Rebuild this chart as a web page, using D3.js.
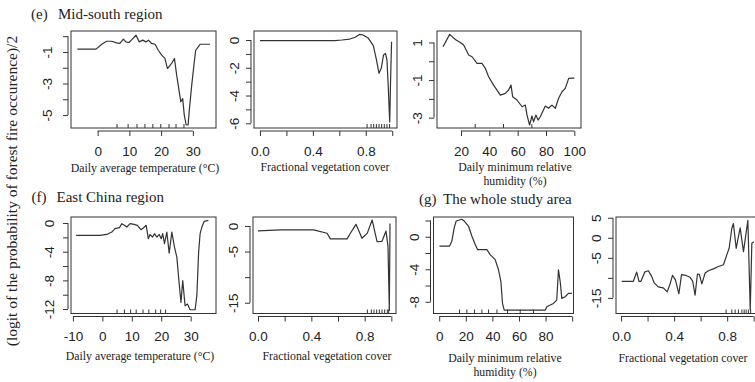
<!DOCTYPE html>
<html><head><meta charset="utf-8">
<script src="https://cdn.jsdelivr.net/npm/d3@7"></script>
<style>
html,body{margin:0;padding:0;background:#fff;overflow:hidden}
svg{display:block}
</style></head>
<body>
<svg id="chart" width="755" height="382"></svg>
<script>
// Partial-dependence curves (gbm), x values and fitted logit/2 values per panel

// (e) Mid-south region
const tempMidX = [-6.4, -0.5, 1.3, 2.8, 4.4, 6.0, 7.0, 8.1, 8.9, 9.9, 10.7, 12.1, 13.1, 14.2, 15.2, 16.0, 17.0, 18.1, 19.1, 20.2, 21.2, 22.0, 23.3, 24.2, 24.9, 25.4, 26.2, 26.8, 27.3, 27.9, 28.5, 28.9, 29.6, 30.4, 30.9, 31.7, 32.3, 35.4];
const tempMidY = [-0.82, -0.82, -0.51, -0.32, -0.32, -0.42, -0.46, -0.19, -0.36, -0.40, -0.23, 0.06, -0.36, -0.25, -0.36, -0.25, -0.46, -0.51, -0.89, -1.20, -1.41, -2.05, -1.73, -1.41, -2.47, -3.10, -4.16, -3.95, -5.00, -5.63, -5.63, -4.68, -3.20, -1.73, -0.89, -0.68, -0.51, -0.51];
const tempMidRug = [6.1, 9.6, 12.4, 14.9, 17.4, 19.9, 22.5, 24.7, 27.2];

const fvcMidX = [0, 0.566, 0.62, 0.679, 0.72, 0.755, 0.78, 0.82, 0.857, 0.88, 0.90, 0.917, 0.934, 0.949, 0.96, 0.97, 0.977, 0.981, 0.987, 0.995];
const fvcMidY = [-0.05, -0.05, 0.0, 0.07, 0.2, 0.41, 0.36, 0.12, -0.4, -1.4, -2.4, -2.04, -1.08, -0.96, -1.44, -3.36, -5.04, -5.9, -3.1, -0.12];
const fvcMidRug = [0.81, 0.84, 0.86, 0.88, 0.90, 0.92, 0.94, 0.96, 0.98];

const rhMidX = [7.3, 12.0, 16.0, 19.5, 21.9, 25.4, 27.8, 31.3, 34.8, 37.2, 39.5, 43.0, 47.8, 51.3, 53.6, 55.3, 56.5, 59.5, 63.1, 65.4, 66.6, 68.4, 70.1, 71.2, 72.9, 74.4, 76.0, 77.6, 79.5, 81.8, 84.2, 86.6, 88.9, 91.3, 93.6, 96.0, 98.0, 100.0];
const rhMidY = [0.77, 1.43, 1.16, 1.00, 0.86, 0.33, 0.24, -0.11, -0.11, -0.38, -0.82, -1.27, -1.80, -1.71, -1.53, -1.27, -1.89, -2.06, -2.42, -2.33, -2.86, -3.39, -2.91, -3.22, -2.86, -3.13, -2.95, -2.69, -2.38, -2.50, -2.33, -2.50, -1.97, -1.62, -1.44, -0.91, -0.90, -0.90];
const rhMidRug = [30, 50, 70];

// (f) East China region
const tempEastX = [-8.9, -0.8, 1.5, 3.2, 4.3, 5.8, 6.6, 7.5, 8.3, 9.4, 10.8, 11.9, 13.1, 14.0, 14.9, 15.6, 16.2, 17.0, 17.7, 18.5, 19.3, 20.0, 20.5, 21.1, 21.9, 22.7, 23.6, 24.5, 25.3, 25.9, 26.7, 27.3, 28.1, 28.9, 29.8, 31.5, 32.1, 32.7, 33.2, 33.8, 34.6, 36.0];
const tempEastY = [-1.72, -1.72, -1.59, -1.26, -0.79, -0.65, -0.09, -0.32, -0.56, -0.09, -0.18, -0.32, -0.93, -0.65, -0.32, -2.19, -1.59, -1.96, -1.49, -1.96, -1.59, -2.19, -1.49, -2.89, -1.26, -4.20, -1.26, -3.37, -4.77, -7.57, -11.08, -8.04, -11.54, -11.31, -12.1, -12.1, -10.1, -4.06, -1.49, -0.56, 0.24, 0.38];
const tempEastRug = [5.0, 7.5, 9.6, 11.5, 13.8, 15.8, 18.1, 19.8, 21.5];

const fvcEastX = [0, 0.167, 0.417, 0.518, 0.543, 0.668, 0.693, 0.735, 0.78, 0.82, 0.856, 0.893, 0.93, 0.96, 0.975, 0.985, 0.99];
const fvcEastY = [-0.97, -0.78, -0.78, -1.43, -2.53, -2.53, -1.43, 0.32, -2.4, -1.4, 1.17, -3.05, -3.0, -1.0, -4.0, -16.5, 0.5];
const fvcEastRug = [0.82, 0.85, 0.87, 0.89, 0.91, 0.93, 0.95, 0.97, 0.98];

// (g) The whole study area
const rhAllX = [0.2, 7.7, 9.5, 11.3, 12.8, 17.0, 19.0, 22.0, 24.6, 27.1, 28.8, 35.9, 38.3, 42.1, 44.6, 46.4, 47.6, 48.9, 79.7, 80.9, 85.9, 88.4, 89.7, 91.0, 92.2, 94.7, 97.2, 99.8];
const rhAllY = [-1.16, -1.16, -0.55, 1.12, 1.94, 2.15, 1.90, 1.32, 0.07, -0.96, -1.58, -1.58, -2.20, -2.82, -4.06, -5.51, -8.20, -9.03, -9.03, -8.62, -8.20, -7.79, -4.06, -5.51, -7.58, -7.38, -6.96, -6.96];
const rhAllRug = [15.3, 20.8, 26.5, 32.1, 37.1, 43.4, 51.4, 60.9, 70.9];

const fvcAllX = [0.005, 0.093, 0.118, 0.135, 0.15, 0.18, 0.206, 0.231, 0.25, 0.28, 0.318, 0.348, 0.368, 0.388, 0.41, 0.436, 0.456, 0.49, 0.52, 0.54, 0.558, 0.576, 0.59, 0.609, 0.634, 0.659, 0.70, 0.734, 0.772, 0.797, 0.815, 0.835, 0.847, 0.868, 0.898, 0.923, 0.956, 0.974, 0.986, 1.0];
const fvcAllY = [-10.86, -10.86, -8.55, -10.86, -10.86, -8.5, -8.22, -9.63, -11.27, -12.26, -12.5, -13.5, -11.68, -9.38, -10.5, -13.98, -9.2, -9.4, -9.87, -10.8, -14.3, -9.05, -9.1, -11.5, -8.8, -8.22, -7.7, -7.16, -6.74, -4.27, -2.62, 2.32, 3.56, -2.62, 2.47, -3.46, 4.37, -18.0, -1.38, -1.0];
const fvcAllRug = [0.792, 0.835, 0.86, 0.885, 0.911, 0.928, 0.943, 0.96, 0.977];

// Axis ticks and their printed labels ("" = tick without label)
const tempMidXTicks = [0, 10, 20, 30];
const tempMidXLabels = ["0", "10", "20", "30"];
const tempMidYTicks = [-5, -4, -3, -2, -1, 0];
const tempMidYLabels = ["-5", "", "-3", "", "-1", ""];
const fvcXTicks = [0, 0.2, 0.4, 0.6, 0.8, 1.0];
const fvcXLabels = ["0.0", "", "0.4", "", "0.8", ""];
const fvcMidYTicks = [-6, -5, -4, -3, -2, -1, 0];
const fvcMidYLabels = ["-6", "", "-4", "", "-2", "", "0"];
const rhMidXTicks = [20, 40, 60, 80, 100];
const rhMidXLabels = ["20", "40", "60", "80", "100"];
const rhMidYTicks = [-3, -2, -1, 0, 1];
const rhMidYLabels = ["-3", "", "-1", "", "1"];
const tempEastXTicks = [-10, 0, 10, 20, 30];
const tempEastXLabels = ["-10", "0", "10", "20", "30"];
const tempEastYTicks = [-12, -10, -8, -6, -4, -2, 0];
const tempEastYLabels = ["-12", "", "-8", "", "-4", "", "0"];
const fvcEastYTicks = [-15, -10, -5, 0];
const fvcEastYLabels = ["-15", "", "-5", "0"];
const rhAllXTicks = [0, 20, 40, 60, 80, 100];
const rhAllXLabels = ["0", "20", "40", "60", "80", ""];
const rhAllYTicks = [-8, -6, -4, -2, 0, 2];
const rhAllYLabels = ["-8", "", "-4", "", "0", ""];
const fvcAllYTicks = [-15, -10, -5, 0, 5];
const fvcAllYLabels = ["-15", "", "-5", "0", "5"];

// ---- drawing ----
const svg = d3.select('#chart');
const SANS = '"Liberation Sans", Arial, sans-serif';
const SERIF = '"Liberation Serif", "Times New Roman", serif';
const INK = '#333';

const panels = [
  {x: tempMidX, y: tempMidY, rug: tempMidRug, box: [71, 31, 216, 128], xDom: [-8.4, 37.3], yDom: [-5.82, 0.33],
   xt: tempMidXTicks, xl: tempMidXLabels, yt: tempMidYTicks, yl: tempMidYLabels, ylOff: 16},
  {x: fvcMidX, y: fvcMidY, rug: fvcMidRug, box: [254, 31, 397, 128], xDom: [-0.045, 1.036], yDom: [-6.34, 0.65],
   xt: fvcXTicks, xl: fvcXLabels, yt: fvcMidYTicks, yl: fvcMidYLabels, ylOff: 12},
  {x: rhMidX, y: rhMidY, rug: rhMidRug, box: [437, 31, 581, 128], xDom: [3.06, 104.7], yDom: [-3.55, 1.61],
   xt: rhMidXTicks, xl: rhMidXLabels, yt: rhMidYTicks, yl: rhMidYLabels, ylOff: 12},
  {x: tempEastX, y: tempEastY, rug: tempEastRug, box: [71, 217, 216, 313.5], xDom: [-10.65, 38.6], yDom: [-12.62, 0.84],
   xt: tempEastXTicks, xl: tempEastXLabels, yt: tempEastYTicks, yl: tempEastYLabels, ylOff: 14},
  {x: fvcEastX, y: fvcEastY, rug: fvcEastRug, box: [253, 217, 396, 313.5], xDom: [-0.0375, 1.035], yDom: [-17.1, 1.75],
   xt: fvcXTicks, xl: fvcXLabels, yt: fvcEastYTicks, yl: fvcEastYLabels, ylOff: 12},
  {x: rhAllX, y: rhAllY, rug: rhAllRug, box: [433.5, 217, 573.5, 313.5], xDom: [-4.29, 101], yDom: [-9.44, 2.43],
   xt: rhAllXTicks, xl: rhAllXLabels, yt: rhAllYTicks, yl: rhAllYLabels, ylOff: 12},
  {x: fvcAllX, y: fvcAllY, rug: fvcAllRug, box: [616, 217, 759, 313.5], xDom: [-0.038, 1.04], yDom: [-18.9, 5.19],
   xt: fvcXTicks, xl: fvcXLabels, yt: fvcAllYTicks, yl: fvcAllYLabels, ylOff: 12}
];

const GAP = 3;   // axis offset from the frame
const TICK = 5;  // outward tick length

panels.forEach(p => {
  const [x0, y0, x1, y1] = p.box;
  const xs = d3.scaleLinear().domain(p.xDom).range([x0, x1]);
  const ys = d3.scaleLinear().domain(p.yDom).range([y1, y0]);
  const g = svg.append('g');

  // frame
  g.append('rect').attr('x', x0).attr('y', y0).attr('width', x1 - x0).attr('height', y1 - y0)
    .attr('fill', 'none').attr('stroke', INK).attr('stroke-width', 1);

  // bottom axis
  const ax = g.append('g').attr('transform', `translate(0,${y1 + GAP})`)
    .call(d3.axisBottom(xs).tickValues(p.xt).tickSize(TICK).tickPadding(10)
      .tickFormat((d, i) => p.xl[i]));
  ax.select('.domain').remove();
  ax.append('line').attr('x1', xs(p.xt[0])).attr('x2', xs(p.xt[p.xt.length - 1]))
    .attr('stroke', INK);
  ax.selectAll('line').attr('stroke', INK);
  ax.selectAll('text').attr('font-family', SANS).attr('font-size', 13.5).attr('fill', '#222');

  // left axis, labels rotated parallel to the axis
  const ay = g.append('g').attr('transform', `translate(${x0 - GAP},0)`)
    .call(d3.axisLeft(ys).tickValues(p.yt).tickSize(TICK)
      .tickFormat((d, i) => p.yl[i]));
  ay.select('.domain').remove();
  ay.append('line').attr('y1', ys(p.yt[0])).attr('y2', ys(p.yt[p.yt.length - 1]))
    .attr('stroke', INK);
  ay.selectAll('line').attr('stroke', INK);
  ay.selectAll('.tick text')
    .attr('transform', 'rotate(-90)')
    .attr('x', 0).attr('y', -p.ylOff).attr('dy', 0)
    .attr('text-anchor', 'middle')
    .attr('font-family', SANS).attr('font-size', 13.5).attr('fill', '#222');

  // rug of decile positions
  g.selectAll('.rug').data(p.rug).enter().append('line')
    .attr('x1', d => xs(d)).attr('x2', d => xs(d))
    .attr('y1', y1).attr('y2', y1 - 4)
    .attr('stroke', INK);

  // fitted curve
  const pts = p.x.map((v, i) => [v, p.y[i]]);
  g.append('path').datum(pts)
    .attr('d', d3.line().x(d => xs(d[0])).y(d => ys(d[1])))
    .attr('fill', 'none').attr('stroke', INK).attr('stroke-width', 1.2)
    .attr('stroke-linejoin', 'round');
});

// panel titles
function title(x1, x2, y, tag, text) {
  svg.append('text').attr('x', x1).attr('y', y).text(tag)
    .attr('font-family', SERIF).attr('font-size', 15).attr('fill', '#222');
  svg.append('text').attr('x', x2).attr('y', y).text(text)
    .attr('font-family', SERIF).attr('font-size', 15).attr('fill', '#222');
}
title(31, 58, 19, '(e)', 'Mid-south region');
title(31.5, 56.5, 202, '(f)', 'East China region');
title(419, 443, 203.5, '(g)', 'The whole study area');

// axis titles
function xtitle(cx, y, lines) {
  lines.forEach((t, i) => svg.append('text').attr('x', cx).attr('y', y + i * 14).text(t)
    .attr('text-anchor', 'middle').attr('font-family', SERIF).attr('font-size', 11.8).attr('fill', '#222'));
}
xtitle(145, 172, ['Daily average temperature (\u00B0C)']);
xtitle(325, 171, ['Fractional vegetation cover']);
xtitle(515, 171, ['Daily minimum relative', 'humidity (%)']);
xtitle(140, 360, ['Daily average temperature (\u00B0C)']);
xtitle(327, 360, ['Fractional vegetation cover']);
xtitle(505, 361.5, ['Daily minimum relative', 'humidity (%)']);
xtitle(683, 361.5, ['Fractional vegetation cover']);

// shared y title
svg.append('text')
  .attr('transform', 'translate(17,191) rotate(-90)')
  .attr('text-anchor', 'middle')
  .attr('font-family', SERIF).attr('font-size', 15.5).attr('fill', '#222')
  .text('(logit of the probability of forest fire occurence)/2');
</script>
</body></html>
